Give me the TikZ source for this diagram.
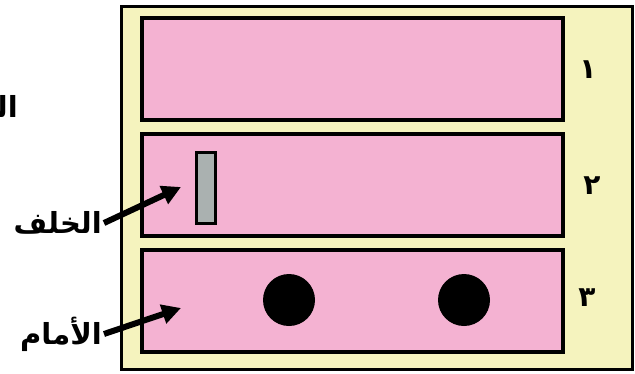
\documentclass[tikz,border=0pt]{standalone}
\usepackage{fontspec}
\usetikzlibrary{arrows.meta, positioning}
\newfontfamily\arabicfont[Script=Arabic]{DejaVu Sans}
\TeXXeTstate=1
\definecolor{ShelfPink}  {HTML}{F4B2D2}
\definecolor{PaleYellow} {HTML}{F5F3BE}
\definecolor{SlotGray}   {HTML}{AAB1B0}

\begin{document}
\begin{tikzpicture}[
		x=1pt, y=-1pt,
		frame/.style={draw=black, fill=PaleYellow, line width=3.5pt,
			minimum width=511pt, minimum height=363pt, inner sep=0pt},
		shelf/.style={draw=black, fill=ShelfPink, line width=3.5pt, outer sep=0pt,
			minimum width=421pt, minimum height=102pt, inner sep=0pt},
		slot/.style={draw=black, fill=SlotGray, line width=3.5pt,
			minimum width=19pt, minimum height=71pt, inner sep=0pt},
		wheel/.style={circle, fill=black, minimum size=52pt, inner sep=0pt},
		digit/.style={font=\arabicfont\bfseries\fontsize{28}{32}\selectfont, inner sep=1pt},
		label/.style={font=\arabicfont\bfseries\fontsize{29}{33}\selectfont,
			anchor=east, inner sep=2pt},
		pointer/.style={-{Triangle[length=19pt, width=19pt]}, line width=6pt},
		]
		\useasboundingbox (0,0) rectangle (635,373);
		% ── Cabinet and its three shelves ───────────────────────────────────────────
		\node[frame] (cabinet) at (377,188) {};
		\node[shelf] (shelfA) at (352.25,69) {};
		\node[shelf, below=14pt of shelfA] (shelfB) {};
		\node[shelf, below=14pt of shelfB] (shelfC) {};
		% ── Contents of the shelves ──────────────────────────────────────────────────
		\node[slot]  (slot)   at (206,188) {};
		\node[wheel] (wheelL) at (289,300) {};
		\node[wheel] (wheelR) at (464,300) {};
		% ── Shelf numbers ────────────────────────────────────────────────────────────
		\node[digit] (numA) at (588,70)  {\beginR ١\endR};
		\node[digit] (numB) at (592,186) {\beginR ٢\endR};
		\node[digit] (numC) at (587,298) {\beginR ٣\endR};
		% ── Side labels ──────────────────────────────────────────────────────────────
		\node[label] (cut)   at (20,106)  {\beginR الـ\endR};
		\node[label] (back)  at (104,223) {\beginR الخلف\endR};
		\node[label] (front) at (104,334) {\beginR الأمام\endR};
		\coordinate (backTip)  at (181,187);
		\coordinate (frontTip) at (181,308);
		\draw[pointer] (back.east)  -- (backTip);
		\draw[pointer] (front.east) -- (frontTip);
	\end{tikzpicture}
\end{document}
